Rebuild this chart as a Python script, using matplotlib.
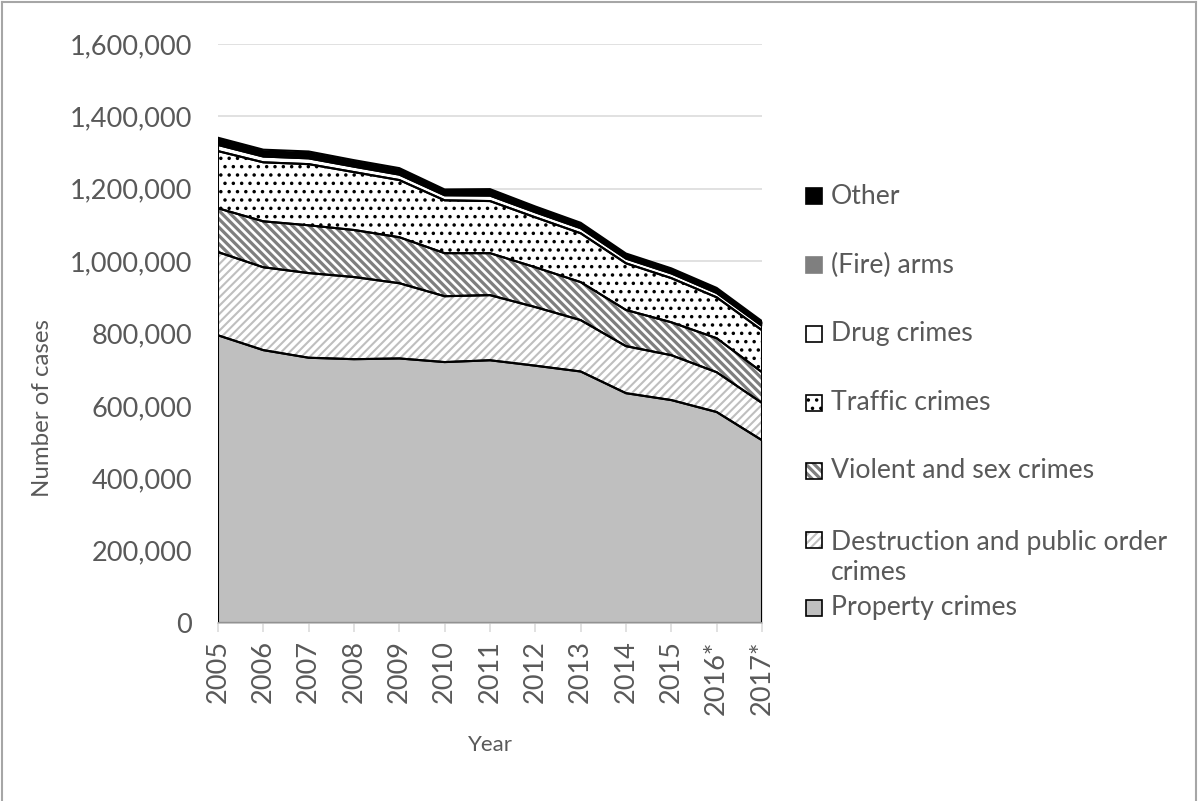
import numpy as np
import matplotlib
matplotlib.use("Agg")
import matplotlib.pyplot as plt
from matplotlib.patches import Rectangle
from matplotlib.lines import Line2D
from matplotlib.ticker import FuncFormatter

plt.rcParams['font.family'] = ['Lato', 'DejaVu Sans']

# registered cases per year, by category
years = ['2005', '2006', '2007', '2008', '2009', '2010', '2011', '2012',
         '2013', '2014', '2015', '2016*', '2017*']
property_crimes = [795000, 754000, 733000, 729000, 731000, 721000, 726000,
                   711000, 695000, 635000, 616000, 583000, 505000]
destruction = [230000, 229000, 234000, 227000, 208000, 182000, 180000,
               162000, 142000, 130000, 124000, 110000, 103000]
violent_sex = [121000, 127000, 132000, 130000, 127000, 119000, 116000,
               110000, 105000, 100000, 91000, 94000, 85000]
traffic = [158000, 163000, 169000, 160000, 158000, 146000, 144000,
           138000, 135000, 129000, 122000, 113000, 116000]
drugs = [17000, 16000, 16000, 15000, 15000, 14000, 15000,
         14000, 14000, 13000, 13000, 12000, 12000]
arms = [6000, 6000, 6000, 6000, 6000, 5000, 5000,
        5000, 5000, 5000, 5000, 5000, 5000]
other = [14000, 13000, 13000, 12000, 12000, 11000, 13000,
         11000, 10000, 9000, 9000, 9000, 8000]

labels = ['Property crimes', 'Destruction and public order\ncrimes',
          'Violent and sex crimes', 'Traffic crimes', 'Drug crimes',
          '(Fire) arms', 'Other']
series = [property_crimes, destruction, violent_sex, traffic, drugs, arms, other]

# face colour, hatch colour, hatch pattern, hatch line width
styles = [
    ('#BFBFBF', '#BFBFBF', None, 1.0),
    ('white', '#BFBFBF', '////', 1.5),
    ('white', '#7F7F7F', '\\\\\\\\', 2.3),
    ('white', 'black', '..', 1.3),
    ('white', 'white', None, 1.0),
    ('#7F7F7F', '#7F7F7F', None, 1.0),
    ('black', 'black', None, 1.0),
]

text_col = '#595959'
W, H = 1198, 801

fig = plt.figure(figsize=(W / 100, H / 100), dpi=100)
ax = fig.add_axes([218 / W, 1 - 623 / H, 544 / W, 579 / H])

x = np.arange(len(years))
data = np.array(series, dtype=float)
tops = np.cumsum(data, axis=0)
bottoms = tops - data

for i, (face, hcol, hatch, hlw) in enumerate(styles):
    with plt.rc_context({'hatch.linewidth': hlw}):
        fill = ax.fill_between(x, bottoms[i], tops[i], facecolor=face,
                               edgecolor=hcol, hatch=hatch, linewidth=0,
                               zorder=2)
        if hasattr(fill, 'set_hatch_linewidth'):
            fill.set_hatch_linewidth(hlw)
    ax.fill_between(x, bottoms[i], tops[i], facecolor='none',
                    edgecolor='black', linewidth=1.5, zorder=3)

ax.set_xlim(0, len(years) - 1)
ax.set_ylim(0, 1600000)
ax.set_yticks(np.arange(0, 1600001, 200000))
ax.yaxis.set_major_formatter(FuncFormatter(lambda v, p: f'{int(v):,}'))
ax.set_xticks(x)
ax.set_xticklabels(years, rotation=90)

ax.grid(axis='y', color='#D9D9D9', linewidth=1.1, zorder=0)
ax.set_axisbelow(True)
for side in ['left', 'right', 'top']:
    ax.spines[side].set_visible(False)
ax.spines['bottom'].set_color('#BFBFBF')
ax.spines['bottom'].set_linewidth(1.1)
ax.spines['bottom'].set_zorder(4)

ax.tick_params(axis='y', length=0, pad=18.5, labelsize=19.5, labelcolor=text_col)
ax.tick_params(axis='x', length=6.5, width=1.1, color='#D9D9D9', pad=6,
               labelsize=19.5, labelcolor=text_col)

ax.set_xlabel('Year', fontsize=16, color=text_col)
ax.xaxis.set_label_coords(0.5, (623 - 735) / 579)
ax.set_ylabel('Number of cases', fontsize=17.3, color=text_col)
ax.yaxis.set_label_coords((53 - 218) / 544, (623 - 408) / 579)

# legend, top entry first
leg_y = [608, 540, 471, 403, 334, 265, 196]
for i, (face, hcol, hatch, hlw) in enumerate(styles):
    yc = leg_y[i]
    with plt.rc_context({'hatch.linewidth': hlw}):
        sw = Rectangle((806 / W, 1 - (yc + 8) / H), 16 / W, 16 / H,
                       transform=fig.transFigure, facecolor=face,
                       edgecolor=hcol, hatch=hatch, linewidth=0)
        if hasattr(sw, 'set_hatch_linewidth'):
            sw.set_hatch_linewidth(hlw)
    fig.add_artist(sw)
    edge = 'black' if i != 5 else '#7F7F7F'
    fig.add_artist(Rectangle((806 / W, 1 - (yc + 8) / H), 16 / W, 16 / H,
                             transform=fig.transFigure, facecolor='none',
                             edgecolor=edge, linewidth=1.2))
    ty = yc if '\n' not in labels[i] else yc + 17.5
    fig.text(831 / W, 1 - ty / H, labels[i], ha='left', va='center',
             fontsize=19.2, color=text_col, linespacing=1.25)

# chart border
for xs, ys in [([0.0015, 0.0015], [0, 0.998]), ([0.0015, 0.9985], [0.998, 0.998]),
               ([0.9985, 0.9985], [0, 0.998])]:
    fig.add_artist(Line2D(xs, ys, transform=fig.transFigure,
                          color='#A6A6A6', linewidth=1.5))

fig.savefig('out.png', dpi=100)
